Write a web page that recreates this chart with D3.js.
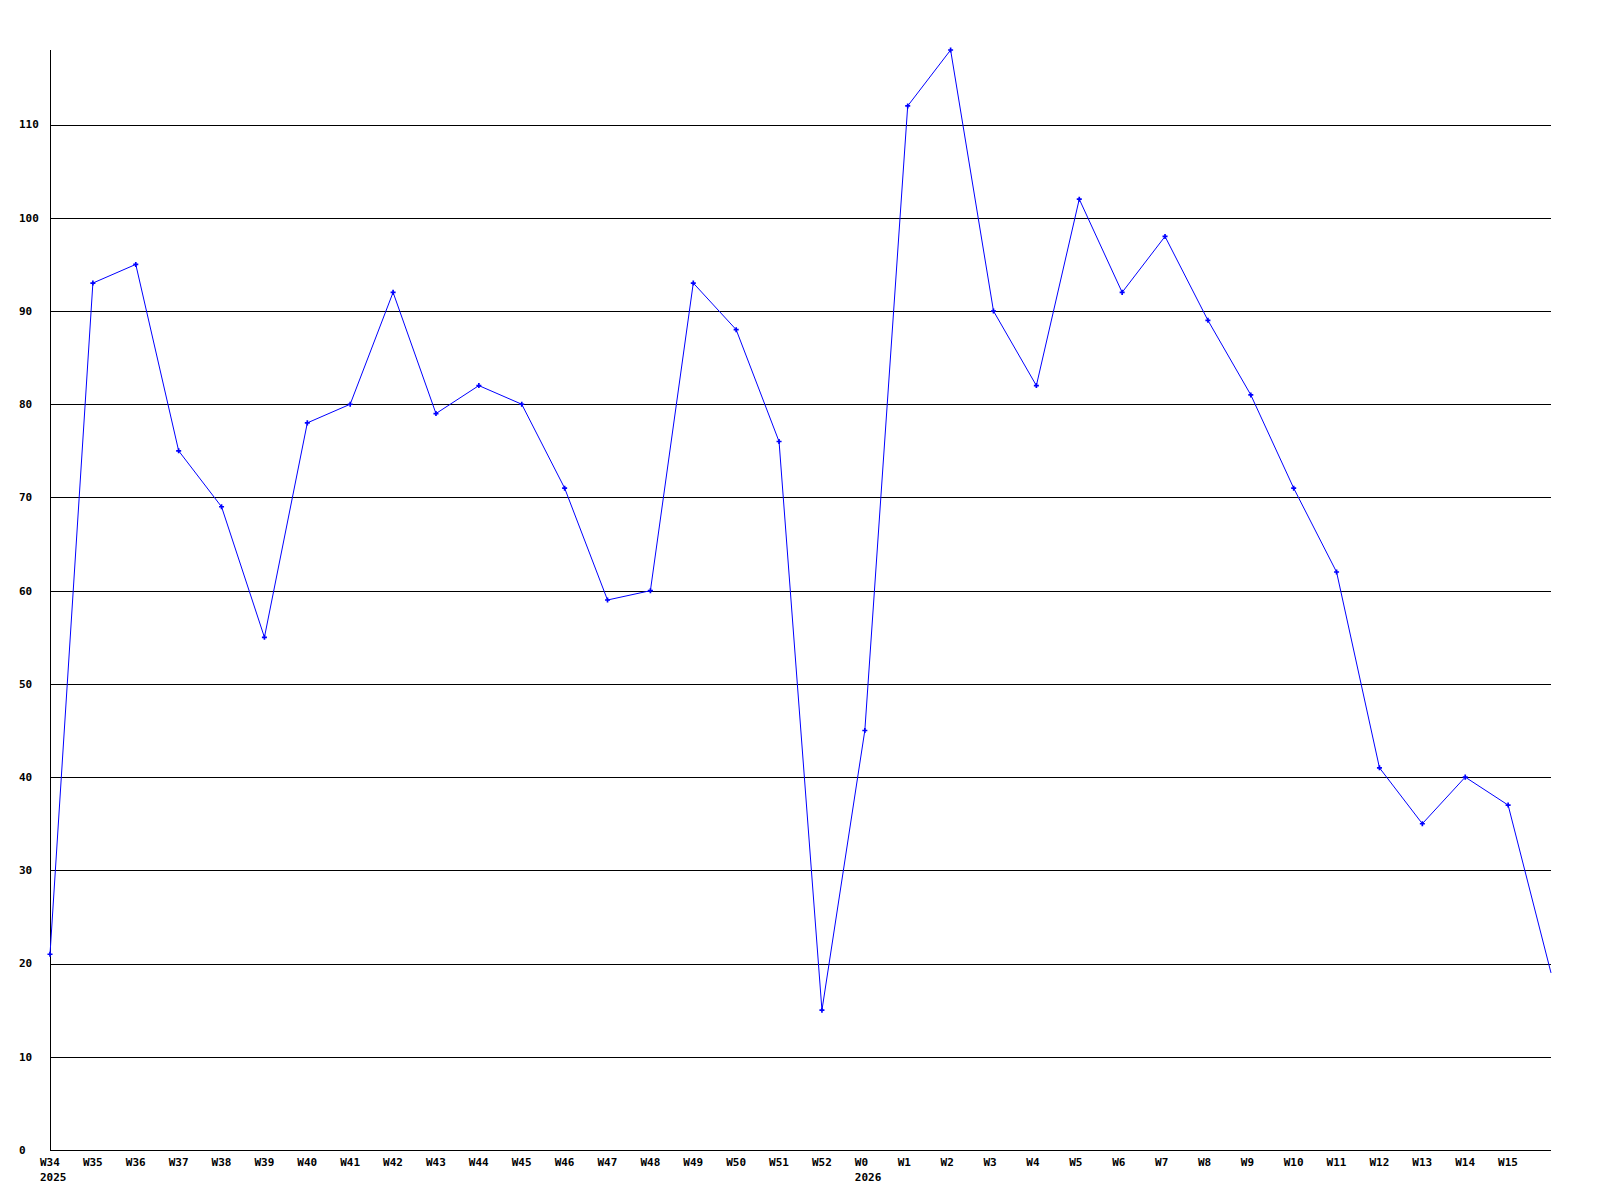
<!DOCTYPE html>
<html>
<head>
<meta charset="utf-8">
<script src="https://cdn.jsdelivr.net/npm/d3@7"></script>
<style>
  body { margin: 0; background: #fff; }
  text { font-family: "DejaVu Sans Mono", monospace; font-weight: bold; font-size: 11px; fill: #000; }
</style>
</head>
<body>
<div id="chart"></div>
<script>
// week labels along the x axis (last point has no label)
var weeks = ['W34','W35','W36','W37','W38','W39','W40','W41','W42','W43','W44','W45','W46','W47','W48','W49','W50','W51','W52',
             'W0','W1','W2','W3','W4','W5','W6','W7','W8','W9','W10','W11','W12','W13','W14','W15',''];

// year labels under the first week of each year
var years = [{week: 'W34', year: '2025'}, {week: 'W0', year: '2026'}];

var values = [21, 93, 95, 75, 69, 55, 78, 80, 92, 79, 82, 80, 71, 59, 60, 93, 88, 76, 15,
              45, 112, 118, 90, 82, 102, 92, 98, 89, 81, 71, 62, 41, 35, 40, 37, 19];

var yTicks = [0, 10, 20, 30, 40, 50, 60, 70, 80, 90, 100, 110];

var width = 1600, height = 1200;
var margin = {top: 50, left: 50, right: 49, bottom: 50};

var svg = d3.select('#chart')
    .append('svg')
    .attr('width', width)
    .attr('height', height);

var xScale = d3.scaleLinear()
    .domain([0, values.length - 1])
    .range([margin.left, width - margin.right]);

var yScale = d3.scaleLinear()
    .domain([0, d3.max(values)])
    .range([height - margin.bottom, margin.top]);

// horizontal grid lines
svg.append('g')
    .selectAll('line')
    .data(yTicks.slice(1))
    .enter()
    .append('line')
    .attr('x1', xScale(0))
    .attr('x2', xScale(values.length - 1))
    .attr('y1', function (d) { return Math.round(yScale(d)) + 0.5; })
    .attr('y2', function (d) { return Math.round(yScale(d)) + 0.5; })
    .attr('stroke', '#000')
    .attr('shape-rendering', 'crispEdges');

// y tick labels, left aligned
svg.append('g')
    .selectAll('text')
    .data(yTicks)
    .enter()
    .append('text')
    .attr('x', 19)
    .attr('y', function (d) { return yScale(d); })
    .attr('dy', '0.35em')
    .text(function (d) { return d; });

// axis lines
svg.append('line')
    .attr('x1', xScale(0) + 0.5).attr('x2', xScale(0) + 0.5)
    .attr('y1', yScale(d3.max(values))).attr('y2', yScale(0))
    .attr('stroke', '#000')
    .attr('shape-rendering', 'crispEdges');

svg.append('line')
    .attr('x1', xScale(0)).attr('x2', xScale(values.length - 1))
    .attr('y1', Math.round(yScale(0)) + 0.5).attr('y2', Math.round(yScale(0)) + 0.5)
    .attr('stroke', '#000')
    .attr('shape-rendering', 'crispEdges');

// week labels
svg.append('g')
    .selectAll('text')
    .data(weeks)
    .enter()
    .append('text')
    .attr('x', function (d, i) { return xScale(i) - 10; })
    .attr('y', yScale(0) + 16)
    .text(function (d) { return d; });

svg.append('g')
    .selectAll('text')
    .data(years)
    .enter()
    .append('text')
    .attr('x', function (d) { return xScale(weeks.indexOf(d.week)) - 10; })
    .attr('y', yScale(0) + 31)
    .text(function (d) { return d.year; });

// the data line
var lineGen = d3.line()
    .x(function (d, i) { return xScale(i); })
    .y(function (d) { return yScale(d); });

svg.append('path')
    .datum(values)
    .attr('d', lineGen)
    .attr('fill', 'none')
    .attr('stroke', '#0000ff')
    .attr('stroke-width', 1);

// small cross markers, the last (open) point has none
svg.append('g')
    .selectAll('path')
    .data(values.slice(0, -1))
    .enter()
    .append('path')
    .attr('d', d3.symbol().type(d3.symbolCross).size(14))
    .attr('transform', function (d, i) { return 'translate(' + xScale(i) + ',' + yScale(d) + ')'; })
    .attr('fill', '#0000ff');
</script>
</body>
</html>
